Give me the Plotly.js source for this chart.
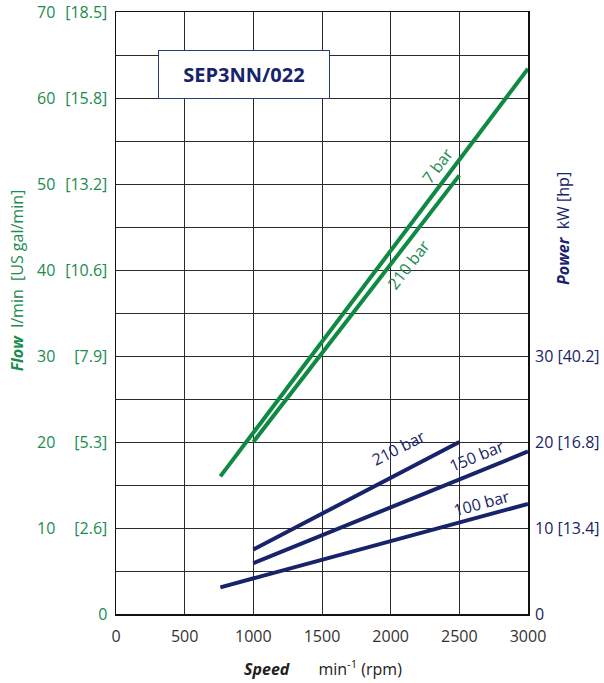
<!DOCTYPE html>
<html>
<head>
<meta charset="utf-8">
<script src="https://cdn.plot.ly/plotly-3.0.1.min.js"></script>
<style>html,body{margin:0;padding:0;background:#fff;}#chart{width:604px;height:683px;}</style>
</head>
<body>
<div id="chart"></div>
<script>
// ---- data ----
const speedTicks = [0, 500, 1000, 1500, 2000, 2500, 3000];
const flowTickVals = [0, 5, 10, 15, 20, 25, 30, 35, 40, 45, 50, 55, 60, 65, 70];
const flowNumLabels = ['0', '', '10', '', '20', '', '30', '', '40', '', '50', '', '60', '', '70'];
const flowGalLabels = ['0', '', '[2.6]', '', '[5.3]', '', '[7.9]', '', '[10.6]', '', '[13.2]', '', '[15.8]', '', '[18.5]'];
const powerTickVals = [0, 10, 20, 30];
const powerTickLabels = ['0', '10 [13.4]', '20 [16.8]', '30 [40.2]'];

const flow7Speed = [760, 3000];
const flow7Value = [16, 63.4];
const flow210Speed = [1000, 2500];
const flow210Value = [20, 51];

const pow210Speed = [1000, 2500];
const pow210Value = [7.5, 20];
const pow150Speed = [1000, 3000];
const pow150Value = [5.9, 18.9];
const pow100Speed = [760, 3000];
const pow100Value = [3.1, 12.8];

const GREEN = '#0f8a43';
const GREEN_TXT = '#1a8c4e';
const NAVY = '#17236b';
const FONT = 'Open Sans, Noto Sans, sans-serif';

const lineW = 4;
const traces = [
  {x: flow7Speed, y: flow7Value, mode: 'lines', line: {color: GREEN, width: lineW}, yaxis: 'y', hoverinfo: 'skip'},
  {x: flow210Speed, y: flow210Value, mode: 'lines', line: {color: GREEN, width: lineW}, yaxis: 'y', hoverinfo: 'skip'},
  {x: pow210Speed, y: pow210Value, mode: 'lines', line: {color: NAVY, width: lineW}, yaxis: 'y2', hoverinfo: 'skip'},
  {x: pow150Speed, y: pow150Value, mode: 'lines', line: {color: NAVY, width: lineW}, yaxis: 'y2', hoverinfo: 'skip'},
  {x: pow100Speed, y: pow100Value, mode: 'lines', line: {color: NAVY, width: lineW}, yaxis: 'y2', hoverinfo: 'skip'}
];

const annotations = [];
// left numeric column of the flow axis
flowTickVals.forEach((v, i) => {
  if (flowNumLabels[i] && v !== 0) {
    annotations.push({xref: 'paper', yref: 'y', x: -0.142, y: v, xanchor: 'right', yanchor: 'middle',
      text: flowNumLabels[i], showarrow: false, font: {family: FONT, size: 16, color: GREEN_TXT}});
  }
});
// line labels
function lineLabel(text, x, y, angle, color, yref) {
  annotations.push({xref: 'x', yref: yref || 'y', x: x, y: y, xanchor: 'center', yanchor: 'middle',
    text: text, textangle: angle, showarrow: false,
    font: {family: FONT, size: 16, color: color}, borderpad: 0});
}
lineLabel('7 bar', 2338, 52.1, -53, GREEN_TXT);
lineLabel('210 bar', 2127, 40.6, -52, GREEN_TXT);
lineLabel('210 bar', 2054, 19.3, -27, NAVY, 'y2');
lineLabel('150 bar', 2622, 18.4, -22, NAVY, 'y2');
lineLabel('100 bar', 2665, 12.9, -15, NAVY, 'y2');

// model box
annotations.push({xref: 'paper', yref: 'paper', x: (244 - 115.7) / 412.3, y: (614 - 75) / 602,
  xanchor: 'center', yanchor: 'middle',
  text: '<b>SEP3NN/022</b>', showarrow: false, width: 170, height: 47,
  font: {family: FONT, size: 20, color: NAVY}, bgcolor: '#fff', bordercolor: '#2a3a7a', borderwidth: 1, borderpad: 0});

// axis titles
annotations.push({xref: 'paper', yref: 'paper', x: (17 - 115.7) / 412.3, y: (614 - 280) / 602,
  xanchor: 'center', yanchor: 'middle',
  text: '<b><i>Flow</i></b>  l/min  [US gal/min]', textangle: -90, showarrow: false,
  font: {family: FONT, size: 16, color: GREEN_TXT}});
annotations.push({xref: 'paper', yref: 'paper', x: (563 - 115.7) / 412.3, y: (614 - 228) / 602,
  xanchor: 'center', yanchor: 'middle',
  text: '<b><i>Power</i></b>  kW [hp]', textangle: -90, showarrow: false,
  font: {family: FONT, size: 16, color: NAVY}});
annotations.push({xref: 'paper', yref: 'paper', x: (323 - 115.7) / 412.3, y: (614 - 668) / 602,
  xanchor: 'center', yanchor: 'middle',
  text: '<b><i>Speed</i></b>       min<sup>-1</sup> (rpm)', showarrow: false,
  font: {family: FONT, size: 16, color: '#222'}});

const layout = {
  width: 604, height: 683,
  margin: {l: 116, r: 76, t: 12, b: 69, pad: 0},
  paper_bgcolor: '#fff', plot_bgcolor: '#fff',
  showlegend: false,
  font: {family: FONT},
  xaxis: {
    range: [0, 3000], tickvals: speedTicks, ticktext: speedTicks.map(String),
    showgrid: true, gridcolor: '#2a2a2a', gridwidth: 1, zeroline: false,
    showline: true, linecolor: '#111', linewidth: 1.5, mirror: true, ticks: '',
    tickfont: {family: FONT, size: 16, color: '#333'}, ticklabelstandoff: 7
  },
  yaxis: {
    range: [0, 70], tickvals: flowTickVals, ticktext: flowGalLabels,
    showgrid: true, gridcolor: '#2a2a2a', gridwidth: 1, zeroline: false,
    showline: true, linecolor: '#111', linewidth: 1.5, mirror: true, ticks: '',
    tickfont: {family: FONT, size: 16, color: GREEN_TXT}, ticklabelstandoff: 4
  },
  yaxis2: {
    range: [0, 70], overlaying: 'y', side: 'right', tickvals: powerTickVals, ticktext: powerTickLabels,
    showgrid: false, zeroline: false, showline: false, ticks: '',
    tickfont: {family: FONT, size: 16, color: NAVY}, ticklabelstandoff: 6
  },
  annotations: annotations
};

Plotly.newPlot('chart', traces, layout, {staticPlot: true, displayModeBar: false});
</script>
</body>
</html>
